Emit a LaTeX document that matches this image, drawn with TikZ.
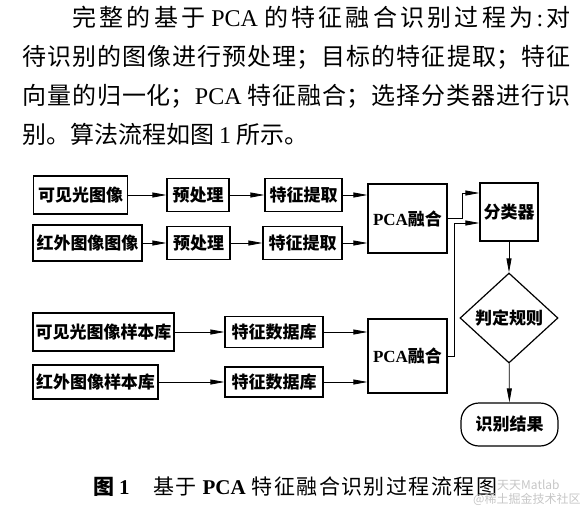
\documentclass[tikz,border=0pt]{standalone}
\usepackage{fontspec}
\setmainfont{Noto Sans CJK SC}
\newfontfamily\tnr{Liberation Serif}
\usepackage{tikz}
\usetikzlibrary{shapes,arrows.meta,positioning,calc}
\XeTeXlinebreaklocale "zh"
\XeTeXlinebreakskip=0pt plus 6pt

\begin{document}
\begin{tikzpicture}[x=1pt, y=-1pt,
    box/.style={draw, line width=1.2pt, inner sep=0pt, font=\fontsize{17}{17}\selectfont\bfseries},
    sbox/.style={box, minimum height=33pt},
    decide/.style={box, diamond, minimum width=98pt, minimum height=90pt},
    endbox/.style={box, rounded corners=18pt, minimum width=97pt, minimum height=43pt},
    arr/.style={-{Triangle[length=14pt,width=5pt]}, line width=0.8pt},
    wmark/.style={anchor=west, inner sep=0pt, text=gray!45, font=\fontsize{12}{12}\selectfont},
]
    \useasboundingbox (0,0) rectangle (587,509);
    % Text above
    \node[anchor=north west, inner sep=0pt, text width=548pt, align=justify,
          font=\fontsize{24}{39}\selectfont] (para) at (22,6)
        {\hspace*{50pt}完整的基于\hspace{6pt}{\tnr PCA}\hspace{6pt}的特征融合识别过程为\hspace{3pt}{\tnr :}\hspace{3pt}对\linebreak
         待识别的图像进行预处理；目标的特征提取；特征\linebreak
         向量的归一化；{\tnr PCA}\hspace{6pt}特征融合；选择分类器进行识\linebreak
         别。算法流程如图\hspace{5pt}{\tnr 1}\hspace{5pt}所示。};
    % Image rows
    \node[box, minimum width=94pt, minimum height=38pt] (vis) at (80.5,195) {可见光图像};
    \node[sbox, minimum width=62pt] (pre1) at (198,195) {预处理};
    \node[sbox, minimum width=77pt] (fea1) at (303.5,195) {特征提取};
    \node[box, minimum width=109pt, minimum height=36pt] (ir) at (87.5,243) {红外图像图像};
    \node[sbox, minimum width=63pt] (pre2) at (198.5,243) {预处理};
    \node[sbox, minimum width=79pt] (fea2) at (302.5,243) {特征提取};
    \node[box, minimum width=79pt, minimum height=69pt] (pca1) at (407.5,218.5) {{\tnr PCA}融合};
    % Sample library rows
    \node[box, minimum width=141pt, minimum height=38pt] (vislib) at (103.5,332) {可见光图像样本库};
    \node[box, minimum width=125pt, minimum height=34pt] (irlib) at (95.5,382) {红外图像样本库};
    \node[sbox, minimum width=98pt, minimum height=31pt] (db1) at (274,332) {特征数据库};
    \node[sbox, minimum width=98pt, minimum height=30pt] (db2) at (274,382) {特征数据库};
    \node[box, minimum width=79pt, minimum height=74pt] (pca2) at (407.5,356) {{\tnr PCA}融合};
    % Classifier column
    \node[box, minimum width=58pt, minimum height=58pt] (cls) at (509,212) {分类器};
    \node[decide] (rule) at (509,318) {判定规则};
    \node[endbox] (res) at (509.5,424.5) {识别结果};
    % Connectors
    \draw[arr] (vis) -- (pre1);
    \draw[arr] (pre1) -- (fea1);
    \draw[arr] (fea1) -- (fea1 -| pca1.west);
    \draw[arr] (ir) -- (pre2);
    \draw[arr] (pre2) -- (fea2);
    \draw[arr] (fea2) -- (fea2 -| pca1.west);
    \draw[arr] (vislib) -- (vislib -| db1.west);
    \draw[arr] (irlib) -- (irlib -| db2.west);
    \draw[arr] (db1) -- (db1 -| pca2.west);
    \draw[arr] (db2) -- (db2 -| pca2.west);
    \draw[arr] (pca1.east) -- ++(15,0) |- ([yshift=19pt]cls.west);
    \draw[arr] (pca2.east) -- ++(7,0) |- ([yshift=-11pt]cls.west);
    \draw[arr] (cls) -- (rule);
    \draw[arr] (rule) -- (res);
    % Caption
    \node[anchor=west, inner sep=0pt, font=\fontsize{21}{21}\selectfont\bfseries] (capnum) at (93,487) {图\hspace{5pt}{\tnr 1}};
    \node[anchor=west, inner sep=0pt, text width=344pt, align=justify,
          font=\fontsize{21}{21}\selectfont] (captext) at (153,487)
        {\parfillskip=0pt 基于\hspace{6pt}{\tnr\bfseries PCA}\hspace{6pt}特征融合识别过程流程图\par};
    \node[wmark] (wm1) at (497,485) {天天Matlab};
    \node[wmark] (wm2) at (473,499) {@稀土掘金技术社区};
\end{tikzpicture}
\end{document}
